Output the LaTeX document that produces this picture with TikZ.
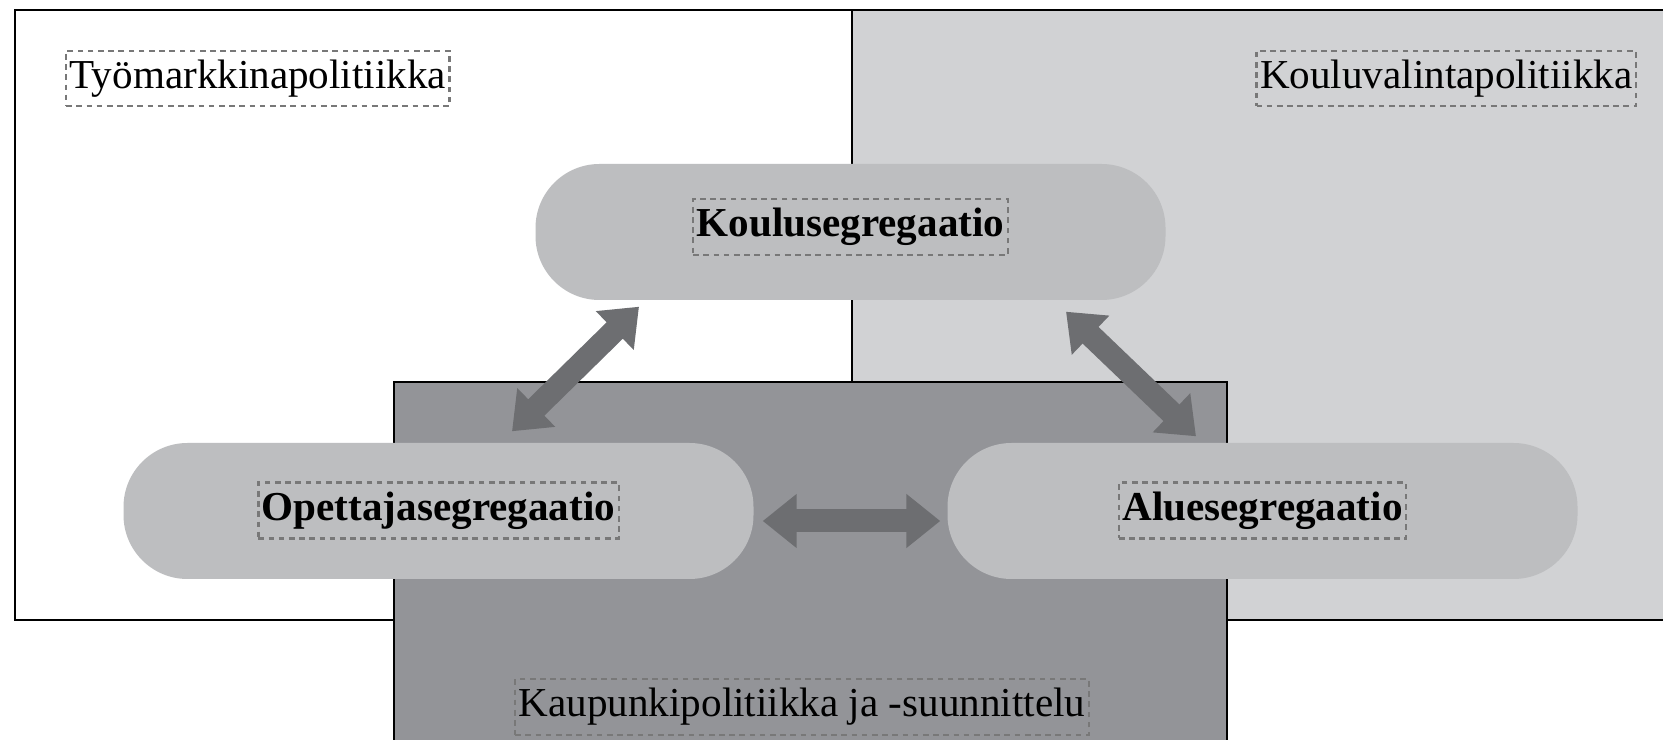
\documentclass[tikz,border=0pt]{standalone}
\usepackage{fontspec}
\setmainfont{Liberation Serif}
\usetikzlibrary{arrows.meta,positioning}
\definecolor{koulugray}{RGB}{209,210,212}
\definecolor{kaupunkigray}{RGB}{147,148,152}
\definecolor{segrgray}{RGB}{189,190,192}
\definecolor{arrowgray}{RGB}{109,110,113}
\definecolor{dashgray}{RGB}{120,120,120}

\begin{document}
\begin{tikzpicture}[font=\fontsize{11.7}{14}\selectfont,
    areabox/.style={draw=black, line width=0.8pt},
    segr/.style={fill=segrgray, rounded corners=0.64cm, minimum width=6.3cm, minimum height=1.36cm},
    lbl/.style={draw=dashgray, dash pattern=on 1.6pt off 1.3pt, line width=0.65pt, inner xsep=1pt, inner ysep=2.6pt},
    segrtext/.style={lbl, font=\fontsize{11.7}{14}\selectfont\bfseries},
    twoway/.style={draw=arrowgray, line width=0.23cm, {Triangle[length=0.34cm,width=0.52cm]}-{Triangle[length=0.34cm,width=0.52cm]}}]
  \useasboundingbox (0,0) rectangle (16.63,7.39);

  % policy areas
  \begin{scope}
    \clip (0,0) rectangle (16.63,7.39);
    \draw[areabox, fill=white] (0.15,1.19) rectangle (8.52,7.29);
    \draw[areabox, fill=koulugray] (8.52,1.19) rectangle (17,7.29);
    \draw[areabox, fill=kaupunkigray] (3.94,-0.5) rectangle (12.27,3.57);
  \end{scope}
  \node[lbl, anchor=west] (tyo) at (0.65,6.605) {Työmarkkinapolitiikka};
  \node[lbl, anchor=east] (kouluval) at (16.37,6.605) {Kouluvalintapolitiikka};
  \node[lbl] (kaupunki) at (8.02,0.32) {Kaupunkipolitiikka ja -suunnittelu};

  % segregation forms
  \node[segr] (koulu) at (8.505,5.07) {};
  \node[segr] (opettaja) at (4.385,2.28) {};
  \node[segr] (alue) at (12.625,2.28) {};
  \node[segrtext] (kouluT) at ([yshift=0.05cm]koulu) {Koulusegregaatio};
  \node[segrtext] (opettajaT) at ([yshift=0.005cm]opettaja) {Opettajasegregaatio};
  \node[segrtext] (alueT) at ([yshift=0.005cm]alue) {Aluesegregaatio};

  % interactions
  \draw[twoway] ([shift={(0.735,0.11)}]opettaja.north) -- ([shift={(-2.115,-0.06)}]koulu.south);
  \draw[twoway] ([shift={(-0.665,0.06)}]alue.north) -- ([shift={(2.155,-0.11)}]koulu.south);
  \draw[twoway] ([shift={(0.085,-0.10)}]opettaja.east) -- ([shift={(-0.065,-0.10)}]alue.west);
\end{tikzpicture}
\end{document}
